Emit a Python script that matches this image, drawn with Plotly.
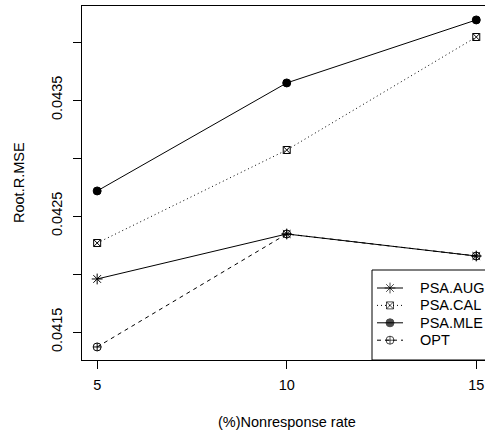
import plotly.graph_objects as go

rates = [5, 10, 15]
psa_aug = [0.041957, 0.042345, 0.042155]
psa_cal = [0.042267, 0.043069, 0.044043]
psa_mle = [0.042716, 0.043647, 0.044190]
opt = [0.041371, 0.042345, 0.042155]

series_names = ["PSA.AUG", "PSA.CAL", "PSA.MLE", "OPT"]
y_tick_vals = [0.0415, 0.0420, 0.0425, 0.0430, 0.0435, 0.0440]
y_tick_text = ["0.0415", "", "0.0425", "", "0.0435", ""]
x_tick_vals = [5, 10, 15]
x_title = "(%)Nonresponse rate"
y_title = "Root.R.MSE"

W, H = 485, 439
L, R_, T, B = 82, 0, 6, 79
pw = W - L - R_
ph = H - T - B
FS = 14.5
FONT = "Liberation Sans, Arial, Helvetica, sans-serif"

styles = [
    dict(dash="solid", symbol="asterisk-open", size=9),
    dict(dash="1px,3px", symbol="square-x-open", size=7),
    dict(dash="solid", symbol="circle", size=8),
    dict(dash="4px,4px", symbol="circle-cross-open", size=8),
]
data = [psa_aug, psa_cal, psa_mle, opt]

fig = go.Figure()
for name, ys, st in zip(series_names, data, styles):
    fig.add_trace(go.Scatter(
        x=rates, y=ys, name=name, mode="lines+markers",
        line=dict(color="black", width=1, dash=st["dash"]),
        marker=dict(symbol=st["symbol"], size=st["size"], color="black",
                    line=dict(color="black", width=1)),
        cliponaxis=False, showlegend=False,
    ))

# ---- manual legend (R-style box, clipped at right edge like the reference) ----
LEG_LEFT, LEG_TOP = 372, 270          # pixel position of legend box
KEY_X0, KEY_XM, KEY_X1 = 377, 390, 403  # key line start / symbol / end (px)
TEXT_X = 418
ROW0, ROW_DY = 288, 17.4

def px_x(p):
    return (p - L) / pw

def px_y(p):
    return (T + ph - p) / ph

fig.add_shape(type="rect", xref="paper", yref="paper",
              x0=px_x(LEG_LEFT), x1=1.1, y0=0, y1=px_y(LEG_TOP),
              line=dict(color="black", width=1), fillcolor="white", layer="below")

for i, (name, st) in enumerate(zip(series_names, styles)):
    yy = ROW0 + i * ROW_DY
    fig.add_trace(go.Scatter(
        x=[KEY_X0, KEY_XM, KEY_X1], y=[yy, yy, yy], xaxis="x2", yaxis="y2",
        mode="lines+markers", showlegend=False, hoverinfo="skip",
        line=dict(color="black", width=1, dash=st["dash"]),
        marker=dict(symbol=st["symbol"], size=[0, st["size"], 0], color="black",
                    line=dict(color="black", width=1)),
        cliponaxis=False,
    ))
    fig.add_annotation(text=name, xref="paper", yref="paper",
                       x=px_x(TEXT_X), y=px_y(yy), xanchor="left", yanchor="middle",
                       showarrow=False, font=dict(size=FS, color="black", family=FONT))

# axis titles (centred on the full plotting region as R does)
fig.add_annotation(text=x_title, x=10, xref="x", y=px_y(422), yref="paper",
                   xanchor="center", yanchor="middle", showarrow=False,
                   font=dict(size=FS, color="black", family=FONT))
fig.add_annotation(text=y_title, x=px_x(19), xref="paper", y=0.5, yref="paper",
                   xanchor="center", yanchor="middle", textangle=-90, showarrow=False,
                   font=dict(size=FS, color="black", family=FONT))

fig.update_layout(
    width=W, height=H,
    margin=dict(l=L, r=R_, t=T, b=B),
    paper_bgcolor="white", plot_bgcolor="white",
    font=dict(family=FONT, size=FS, color="black"),
    showlegend=False,
    xaxis=dict(range=[4.6, 15.23], tickvals=x_tick_vals, ticks="outside", ticklen=8,
               tickcolor="black", showline=True, mirror=True, linecolor="black",
               linewidth=1, showgrid=False, zeroline=False,
               tickfont=dict(size=FS, color="black"), ticklabelstandoff=4),
    yaxis=dict(range=[0.0412586, 0.0443103], tickvals=y_tick_vals, ticktext=y_tick_text,
               ticks="outside", ticklen=8, tickcolor="black", showline=True, mirror=False,
               linecolor="black", linewidth=1, showgrid=False, zeroline=False,
               tickangle=-90, tickfont=dict(size=FS, color="black"), ticklabelstandoff=5),
    xaxis2=dict(range=[L, W], overlaying="x", visible=False, fixedrange=True),
    yaxis2=dict(range=[T + ph, T], overlaying="y", visible=False, fixedrange=True),
)

fig.write_html("out.html")
